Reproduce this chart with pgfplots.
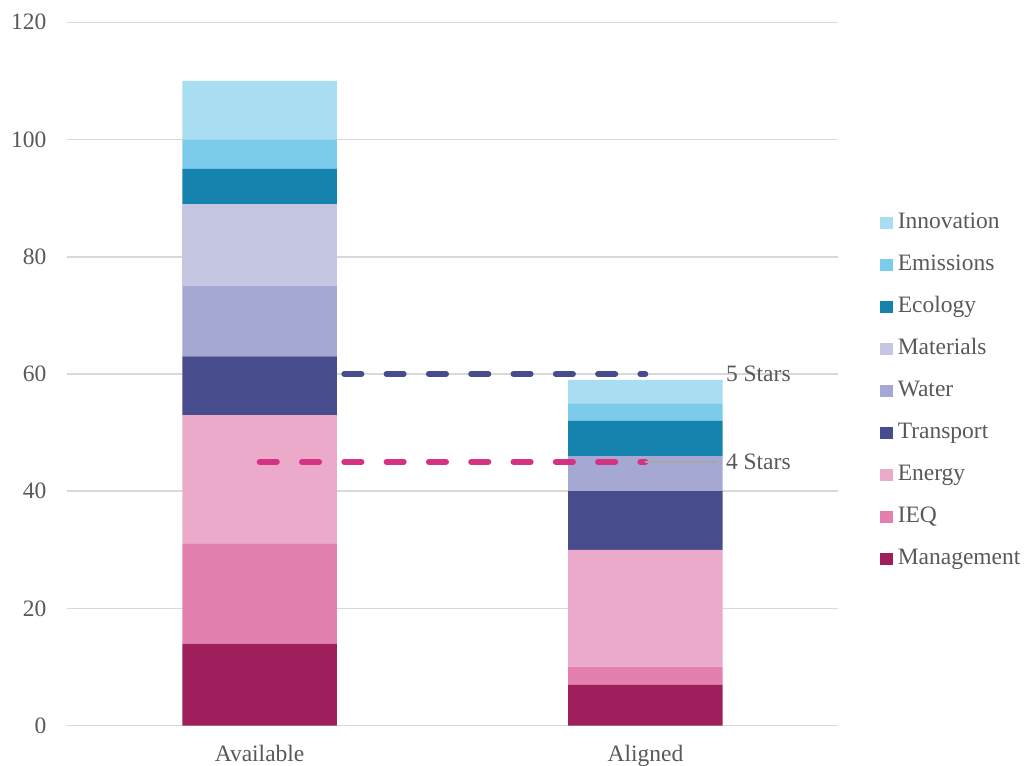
\documentclass[border=0pt]{standalone}
\usepackage{pgfplots}
\usepackage{pgfplotstable}
\pgfplotsset{compat=1.18}
\usepackage{fontspec}
\setmainfont{Liberation Serif}
\definecolor{cMan}{RGB}{158,31,92}
\definecolor{cIEQ}{RGB}{228,128,176}
\definecolor{cEne}{RGB}{235,170,202}
\definecolor{cTra}{RGB}{71,76,141}
\definecolor{cWat}{RGB}{166,168,212}
\definecolor{cMat}{RGB}{197,198,226}
\definecolor{cEco}{RGB}{22,130,174}
\definecolor{cEmi}{RGB}{125,203,235}
\definecolor{cInn}{RGB}{169,221,242}
\definecolor{cFive}{RGB}{71,76,141}
\definecolor{cFour}{RGB}{214,50,132}
\definecolor{txt}{RGB}{89,89,89}
\definecolor{gridc}{RGB}{217,217,217}
\definecolor{leader}{RGB}{166,166,166}
\newcommand{\myfont}{\fontsize{11.75}{14}\selectfont}
\pgfplotstableread{
x Management IEQ Energy Transport Water Materials Ecology Emissions Innovation
0 14 17 22 10 12 14 6 5 10
1 7 3 20 10 6 0 6 3 4
}\data
\begin{document}
\begin{tikzpicture}
\path[use as bounding box] (0,0) rectangle (512.5pt,383pt);
\begin{axis}[
  at={(33.35pt,20.15pt)}, anchor=south west,
  scale only axis, width=385.8pt, height=351.7pt,
  xmin=-0.5, xmax=1.5, ymin=0, ymax=120,
  ybar stacked, bar width=77.2pt,
  xtick={0,1}, xticklabels={Available,Aligned},
  ytick={0,20,...,120},
  axis line style={draw=none},
  major tick length=0pt,
  ymajorgrids, grid style={gridc, line width=0.75pt},
  /pgf/number format/assume math mode=true,
  tick label style={font=\myfont, text=txt},
  yticklabel style={anchor=east, inner sep=0pt, xshift=-10pt},
  xticklabel style={anchor=base, inner sep=0pt, yshift=-18pt},
  legend style={draw=none, fill=none, font=\myfont, text=txt,
    at={(1.054,0.4755)}, anchor=west, inner sep=0pt,
    row sep=10.4pt,
    nodes={inner sep=0pt, text height=8pt, text depth=2.6pt},
    /tikz/every odd column/.append style={column sep=2.5pt}},
  legend cell align=left,
  reverse legend,
  legend image code/.code={\fill[#1, draw=none] (0pt,-3.1pt) rectangle (6.2pt,3.1pt);},
  clip=false,
]
\addplot[fill=cMan, draw=none] table[x=x, y=Management] {\data};
\addplot[fill=cIEQ, draw=none] table[x=x, y=IEQ] {\data};
\addplot[fill=cEne, draw=none] table[x=x, y=Energy] {\data};
\addplot[fill=cTra, draw=none] table[x=x, y=Transport] {\data};
\addplot[fill=cWat, draw=none] table[x=x, y=Water] {\data};
\addplot[fill=cMat, draw=none] table[x=x, y=Materials] {\data};
\addplot[fill=cEco, draw=none] table[x=x, y=Ecology] {\data};
\addplot[fill=cEmi, draw=none] table[x=x, y=Emissions] {\data};
\addplot[fill=cInn, draw=none] table[x=x, y=Innovation] {\data};
\legend{Management,IEQ,Energy,Transport,Water,Materials,Ecology,Emissions,Innovation}
\end{axis}
\begin{axis}[
  at={(33.35pt,20.15pt)}, anchor=south west,
  scale only axis, width=385.8pt, height=351.7pt,
  xmin=-0.5, xmax=1.5, ymin=0, ymax=120,
  hide axis, clip=false,
]
\addplot[cFive, line width=2.9pt, line cap=round, dash pattern=on 8.65pt off 12.5pt] coordinates {(0,60) (1,60)};
\addplot[cFour, line width=2.9pt, line cap=round, dash pattern=on 8.65pt off 12.5pt] coordinates {(0,45) (1,45)};
\draw[leader, line width=0.6pt] (axis cs:1,45) -- (axis cs:1.1856,45);
\node[anchor=west, inner sep=0pt, font=\myfont, text=txt] at (axis cs:1.208,60) {5 Stars};
\node[anchor=west, inner sep=0pt, font=\myfont, text=txt] at (axis cs:1.208,45) {4 Stars};
\end{axis}
\end{tikzpicture}
\end{document}
